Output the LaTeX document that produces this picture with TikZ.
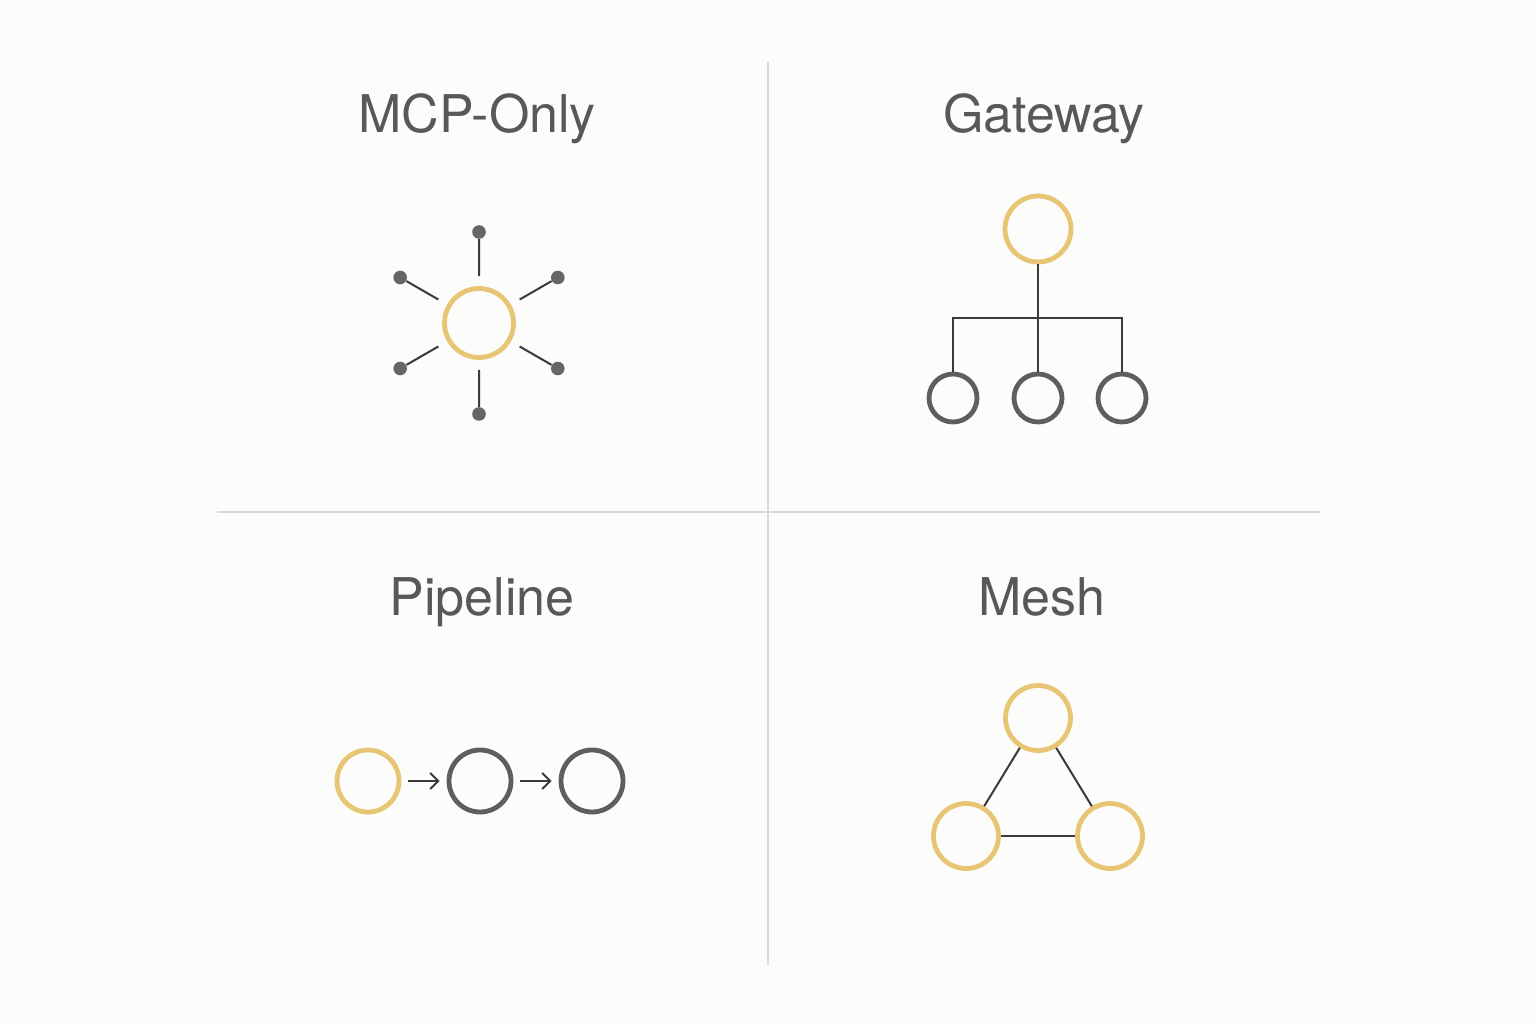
\documentclass[tikz,border=0pt]{standalone}
\usepackage{fontspec}
\setmainfont{TeX Gyre Heros}
\usetikzlibrary{calc,arrows.meta}
\definecolor{bgc}{HTML}{FCFCFA}
\definecolor{gold}{HTML}{E8C574}
\definecolor{ringgray}{HTML}{5E5E5E}
\definecolor{linec}{HTML}{3A3A3A}
\definecolor{dotc}{HTML}{666666}
\definecolor{divc}{HTML}{D8D8D8}
\definecolor{textc}{HTML}{55595C}
\tikzset{
  title/.style={font=\fontsize{26}{31}\selectfont, text=textc, anchor=base, inner sep=0pt},
  goldring/.style={circle, draw=gold, line width=2.4pt, inner sep=0pt, fill=bgc},
  grayring/.style={circle, draw=ringgray, line width=2.4pt, inner sep=0pt, fill=bgc},
  dotnode/.style={circle, fill=dotc, inner sep=0pt, minimum size=6.8pt},
  conn/.style={draw=linec, line width=1pt},
  divider/.style={draw=divc, line width=0.8pt},
}
\begin{document}
\begin{tikzpicture}[x=0.5pt,y=0.5pt]
\fill[bgc] (0,0) rectangle (1536,1024);
\useasboundingbox (0,0) rectangle (1536,1024);
% dividers
\coordinate (vt) at (768,962);
\coordinate (vb) at (768,59);
\coordinate (hl) at (217,512);
\coordinate (hr) at (1320,512);
\draw[divider] (vt) -- (vb);
\draw[divider] (hl) -- (hr);
% titles
\node[title] (t1) at (477,891) {MCP-Only};
\node[title] (t2) at (1044,891) {Gateway};
\node[title] (t3) at (482,409) {Pipeline};
\node[title] (t4) at (1042,409) {Mesh};
% MCP-Only star
\node[goldring, minimum size=34.5pt] (c1) at (479,701) {};
\foreach \a [count=\i] in {90,30,-30,-90,210,150}{
  \node[dotnode] (d\i) at ($(c1.center)+(\a:91)$) {};
  \draw[conn] ($(c1.center)!0.516!(d\i.center)$) -- (d\i);
}
% Gateway
\node[goldring, minimum size=33pt] (g0) at (1038,795) {};
\node[grayring, minimum size=24pt] (g1) at (953,626) {};
\node[grayring, minimum size=24pt] (g2) at (1038,626) {};
\node[grayring, minimum size=24pt] (g3) at (1122,626) {};
\coordinate (bar) at (1038,706);
\draw[conn] (g0) -- (g2);
\draw[conn] (g1) -- (g1 |- bar) -- (g3 |- bar) -- (g3);
% Pipeline
\node[goldring, minimum size=31pt] (p1) at (368,243) {};
\node[grayring, minimum size=31pt] (p2) at (480,243) {};
\node[grayring, minimum size=31pt] (p3) at (592,243) {};
\draw[conn, -{Straight Barb[length=4pt,width=8pt]}, shorten <=3.5pt, shorten >=3.5pt] (p1) -- (p2);
\draw[conn, -{Straight Barb[length=4pt,width=8pt]}, shorten <=3.5pt, shorten >=3.5pt] (p2) -- (p3);
% Mesh
\node[goldring, minimum size=32.5pt] (m1) at (1038,306) {};
\node[goldring, minimum size=32.5pt] (m2) at (966,188) {};
\node[goldring, minimum size=32.5pt] (m3) at (1110,188) {};
\draw[conn] (m1) -- (m2);
\draw[conn] (m1) -- (m3);
\draw[conn] (m2) -- (m3);
\end{tikzpicture}
\end{document}
